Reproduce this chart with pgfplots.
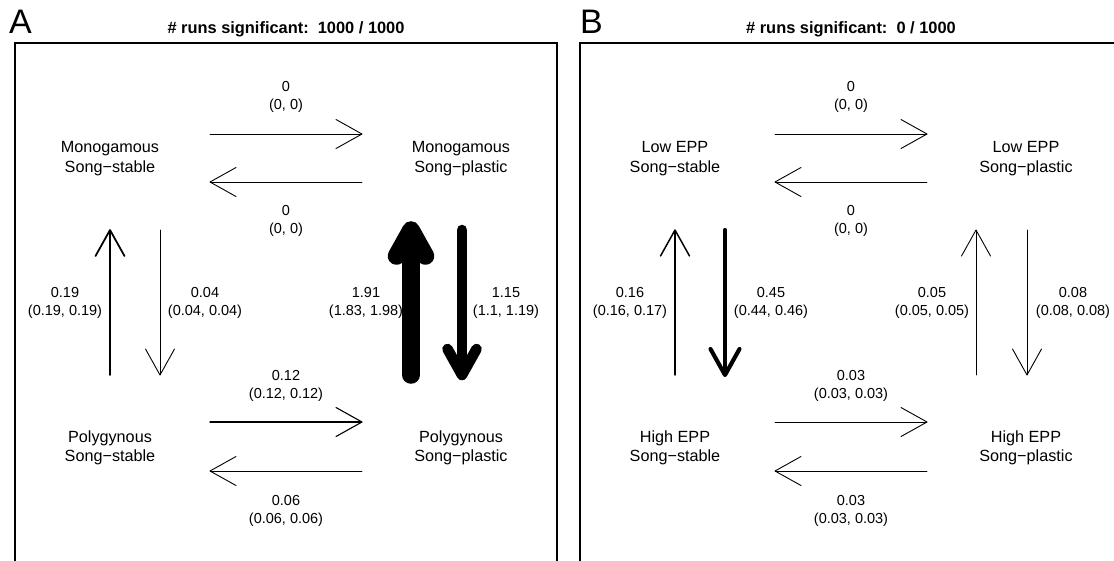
\documentclass[border=0pt]{standalone}
\usepackage{pgfplots}
\pgfplotsset{compat=1.18}
\usetikzlibrary{arrows.meta}
\usepackage{fontspec}
\setmainfont{Liberation Sans}

% one transition: arrow from (#1,#2) to (#3,#4), rate #5 with interval (#6, #7),
% rate label centred at (#8,#9); the line width follows the rate
\newcommand\flow[9]{%
  \pgfmathsetmacro\lw{max(9.2*#5,0.9)}%
  \pgfmathsetmacro\ext{-0.5*\lw}%
  \edef\doplot{\noexpand\addplot[flow, line width=\lw pt, shorten >=\ext pt] coordinates {(#1,#2) (#3,#4)};}%
  \doplot
  \node[rate] at (axis cs:#8,#9) {#5\\(#6, #7)};%
}

\pgfplotsset{
  panel/.style={
    scale only axis, width=542pt, height=520pt,
    xmin=15, xmax=557, ymin=43, ymax=563, y dir=reverse,
    xtick=\empty, ytick=\empty,
    axis line style={line width=1.3pt},
    clip=false, anchor=center,
  },
  flow/.style={no marks, black, line cap=round, line join=round,
    -{Straight Barb[length=26pt, width=29pt, round]}},
}
\tikzset{
  rate/.style={align=center, font=\fontsize{14.5}{17.5}\selectfont, inner sep=0pt},
  state/.style={align=center, font=\fontsize{16.2}{19.5}\selectfont, inner sep=0pt},
  head/.style={font=\fontsize{16.4}{19}\selectfont\bfseries, inner sep=0pt},
  letter/.style={font=\fontsize{34}{40}\selectfont, anchor=base, inner sep=0pt},
}

\begin{document}
\begin{tikzpicture}
\useasboundingbox (0,0) rectangle (1114pt,-560pt);
\clip (0,0) rectangle (1114pt,-560pt);

% Panel A: mating system
\begin{axis}[panel, at={(286pt,-303pt)}]
  \node[letter] at (axis cs:20.5,33) {A};
  \node[head] at (axis cs:286,29) {\# runs significant:\ \ 1000 / 1000};
  \node[state] at (axis cs:110,158.5) {Monogamous\\Song−stable};
  \node[state] at (axis cs:461,158.5) {Monogamous\\Song−plastic};
  \node[state] at (axis cs:110,448) {Polygynous\\Song−stable};
  \node[state] at (axis cs:461,448) {Polygynous\\Song−plastic};
  \flow{210}{134}{362}{134}{0}{0}{0}{286}{97}
  \flow{362}{182}{210}{182}{0}{0}{0}{286}{221}
  \flow{110}{375}{110}{230}{0.19}{0.19}{0.19}{65}{303}
  \flow{160}{230}{160}{375}{0.04}{0.04}{0.04}{205}{303}
  \flow{411}{375}{411}{230}{1.91}{1.83}{1.98}{366}{303}
  \flow{462}{230}{462}{375}{1.15}{1.1}{1.19}{506}{303}
  \flow{210}{422}{362}{422}{0.12}{0.12}{0.12}{286}{386}
  \flow{362}{471}{210}{471}{0.06}{0.06}{0.06}{286}{511}
\end{axis}

% Panel B: extra-pair paternity
\begin{axis}[panel, at={(851pt,-303pt)}]
  \node[letter] at (axis cs:26.5,33) {B};
  \node[head] at (axis cs:286,29) {\# runs significant:\ \ 0 / 1000};
  \node[state] at (axis cs:110,158.5) {Low EPP\\Song−stable};
  \node[state] at (axis cs:461,158.5) {Low EPP\\Song−plastic};
  \node[state] at (axis cs:110,448) {High EPP\\Song−stable};
  \node[state] at (axis cs:461,448) {High EPP\\Song−plastic};
  \flow{210}{134}{362}{134}{0}{0}{0}{286}{97}
  \flow{362}{182}{210}{182}{0}{0}{0}{286}{221}
  \flow{110}{375}{110}{230}{0.16}{0.16}{0.17}{65}{303}
  \flow{160}{230}{160}{375}{0.45}{0.44}{0.46}{206}{303}
  \flow{411}{375}{411}{230}{0.05}{0.05}{0.05}{367}{303}
  \flow{462}{230}{462}{375}{0.08}{0.08}{0.08}{508}{303}
  \flow{210}{422}{362}{422}{0.03}{0.03}{0.03}{286}{386}
  \flow{362}{471}{210}{471}{0.03}{0.03}{0.03}{286}{511}
\end{axis}
\end{tikzpicture}
\end{document}
